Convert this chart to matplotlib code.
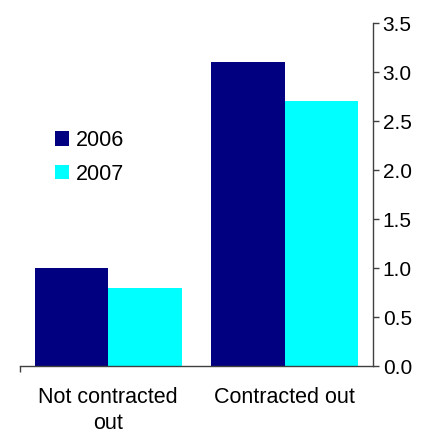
import matplotlib
matplotlib.use("Agg")
import matplotlib.pyplot as plt
from matplotlib.patches import Patch
import numpy as np

plt.rcParams['font.family'] = ['Liberation Sans', 'DejaVu Sans']

categories = ["Not contracted\nout", "Contracted out"]
series = ["2006", "2007"]
values_2006 = [1.0, 3.1]
values_2007 = [0.8, 2.7]
colors = ["#000080", "#00FFFF"]
yticks = [0.0, 0.5, 1.0, 1.5, 2.0, 2.5, 3.0, 3.5]

fig = plt.figure(figsize=(4.36, 4.33), dpi=100)
ax = fig.add_axes([0.0459, 0.1547, 0.8096, 0.7921])

x = np.arange(len(categories))
w = 0.417
ax.bar(x - w / 2, values_2006, width=w, color=colors[0], linewidth=0)
ax.bar(x + w / 2, values_2007, width=w, color=colors[1], linewidth=0)

ax.set_xlim(-0.5, len(categories) - 0.5)
ax.set_ylim(0, 3.5)

# axis on the right, outward ticks
for s in ("left", "top"):
    ax.spines[s].set_visible(False)
for s in ("right", "bottom"):
    ax.spines[s].set_color("#404040")
    ax.spines[s].set_linewidth(1.0)
ax.yaxis.tick_right()
ax.set_yticks(yticks)
ax.set_yticklabels([f"{v:.1f}" for v in yticks])
ax.tick_params(axis="y", direction="out", length=4, width=1, color="#404040",
               pad=3, labelsize=15)

ax.set_xticks(x)
ax.set_xticklabels(categories, fontsize=15.5, linespacing=1.33, va="top")
ax.tick_params(axis="x", length=0, pad=15)
ax.set_xticks([-0.5], minor=True)
ax.tick_params(axis="x", which="minor", direction="out", length=4, width=1,
               color="#404040")

handles = [Patch(facecolor=c, edgecolor="none") for c in colors]
ax.legend(handles, series, loc="upper left", bbox_to_anchor=(0.126, 0.70),
          bbox_transform=fig.transFigure, frameon=False, fontsize=15.5,
          handlelength=0.65, handleheight=0.65, handletextpad=0.3,
          labelspacing=0.6, borderaxespad=0, borderpad=0)

fig.savefig("out.png", dpi=100)
